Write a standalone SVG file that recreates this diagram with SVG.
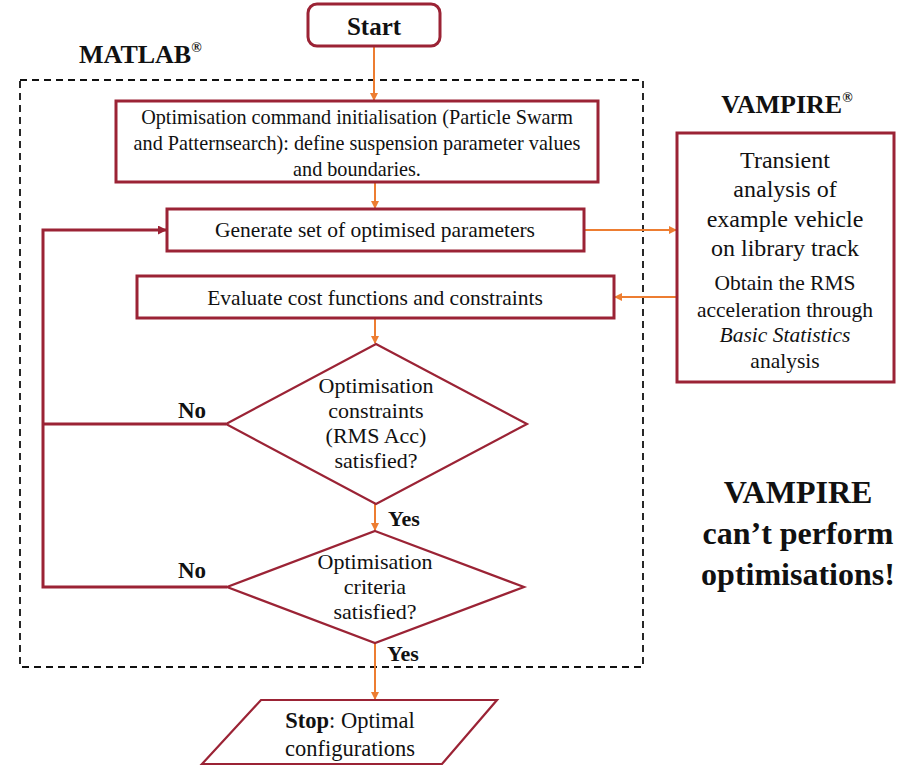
<svg xmlns="http://www.w3.org/2000/svg" width="898" height="769" viewBox="0 0 898 769">
<defs>
<marker id="ao" markerWidth="8" markerHeight="8" refX="7" refY="4" orient="auto" markerUnits="userSpaceOnUse"><path d="M0,0 L8,4 L0,8 z" fill="#ED7D31"/></marker>
<marker id="ar" markerWidth="9" markerHeight="9" refX="8" refY="4.5" orient="auto" markerUnits="userSpaceOnUse"><path d="M0,0 L9,4.5 L0,9 z" fill="#9B2335"/></marker>
<style>
.box{fill:#fff;stroke:#9B2335;stroke-width:3}
.dia{fill:#fff;stroke:#9B2335;stroke-width:2.2}
.t{font-family:"Liberation Serif","Times New Roman",serif;fill:#111;text-anchor:middle}
.tb{font-family:"Liberation Serif","Times New Roman",serif;font-weight:bold;fill:#111}
.o{stroke:#ED7D31;stroke-width:2;fill:none}
.r{stroke:#9B2335;stroke-width:3;fill:none}
</style>
</defs>
<rect width="898" height="769" fill="#fff"/>
<g id="matlab-region">
<rect x="20" y="80" width="623" height="587" fill="none" stroke="#111" stroke-width="1.8" stroke-dasharray="7,5"/>
<text class="tb" x="79" y="63" font-size="26">MATLAB<tspan font-size="14" dy="-11">®</tspan></text>
</g>
<g id="connectors">
<line class="o" x1="374" y1="46" x2="374" y2="100" marker-end="url(#ao)"/>
<line class="o" x1="375" y1="182" x2="375" y2="208" marker-end="url(#ao)"/>
<line class="o" x1="375" y1="318" x2="375" y2="343" marker-end="url(#ao)"/>
<line class="o" x1="375" y1="504" x2="375" y2="530" marker-end="url(#ao)"/>
<line class="o" x1="375" y1="643" x2="375" y2="699" marker-end="url(#ao)"/>
<line class="o" x1="584" y1="230" x2="676" y2="230" marker-end="url(#ao)"/>
<line class="o" x1="677" y1="297" x2="615" y2="297" marker-end="url(#ao)"/>
<polyline class="r" points="226,424 43,424"/>
<polyline class="r" points="227,587 43,587 43,230 166,230" marker-end="url(#ar)"/>
<text class="tb" x="178" y="418" font-size="23">No</text>
<text class="tb" x="178" y="578" font-size="23">No</text>
<text class="tb" x="388" y="526" font-size="22">Yes</text>
<text class="tb" x="387" y="661" font-size="22">Yes</text>
</g>
<g id="start">
<rect class="box" x="308" y="4" width="132" height="42" rx="9"/>
<text class="tb" x="374" y="35" font-size="25" text-anchor="middle">Start</text>
</g>
<g id="init">
<rect class="box" x="116" y="101" width="482" height="81"/>
<text class="t" x="357" y="124" font-size="20.2">Optimisation command initialisation (Particle Swarm</text>
<text class="t" x="357" y="150" font-size="20.2">and Patternsearch): define suspension parameter values</text>
<text class="t" x="357" y="176" font-size="20.2">and boundaries.</text>
</g>
<g id="generate">
<rect class="box" x="167" y="209" width="417" height="42"/>
<text class="t" x="375" y="237" font-size="21.5">Generate set of optimised parameters</text>
</g>
<g id="evaluate">
<rect class="box" x="137" y="276" width="477" height="42"/>
<text class="t" x="375" y="305" font-size="21.5">Evaluate cost functions and constraints</text>
</g>
<g id="decision1">
<polygon class="dia" points="376,344 527,424 376,504 226,424"/>
<text class="t" x="376" y="393" font-size="22">Optimisation</text>
<text class="t" x="376" y="418" font-size="22">constraints</text>
<text class="t" x="376" y="443" font-size="22">(RMS Acc)</text>
<text class="t" x="376" y="468" font-size="22">satisfied?</text>
</g>
<g id="decision2">
<polygon class="dia" points="375,531 524,587 375,643 227,587"/>
<text class="t" x="375" y="569" font-size="22">Optimisation</text>
<text class="t" x="375" y="594" font-size="22">criteria</text>
<text class="t" x="375" y="619" font-size="22">satisfied?</text>
</g>
<g id="stop">
<polygon class="dia" points="261,700 497,700 442,764 202,764"/>
<text class="t" x="350" y="728" font-size="22.5"><tspan font-weight="bold">Stop</tspan>: Optimal</text>
<text class="t" x="350" y="756" font-size="22.5">configurations</text>
</g>
<g id="vampire">
<text class="tb" x="787" y="113" font-size="26" text-anchor="middle">VAMPIRE<tspan font-size="14" dy="-11">®</tspan></text>
<rect class="box" x="677" y="133" width="217" height="249"/>
<text class="t" x="785" y="168" font-size="24">Transient</text>
<text class="t" x="785" y="197" font-size="24">analysis of</text>
<text class="t" x="785" y="227" font-size="24">example vehicle</text>
<text class="t" x="785" y="256" font-size="24">on library track</text>
<text class="t" x="785" y="290" font-size="21.5">Obtain the RMS</text>
<text class="t" x="785" y="317" font-size="21.5">acceleration through</text>
<text class="t" x="785" y="342" font-size="21.5" font-style="italic">Basic Statistics</text>
<text class="t" x="785" y="368" font-size="21.5">analysis</text>
</g>
<g id="note">
<text class="tb" x="798" y="503" font-size="32" text-anchor="middle">VAMPIRE</text>
<text class="tb" x="798" y="544" font-size="32" text-anchor="middle">can’t perform</text>
<text class="tb" x="798" y="585" font-size="32" text-anchor="middle">optimisations!</text>
</g>
</svg>
